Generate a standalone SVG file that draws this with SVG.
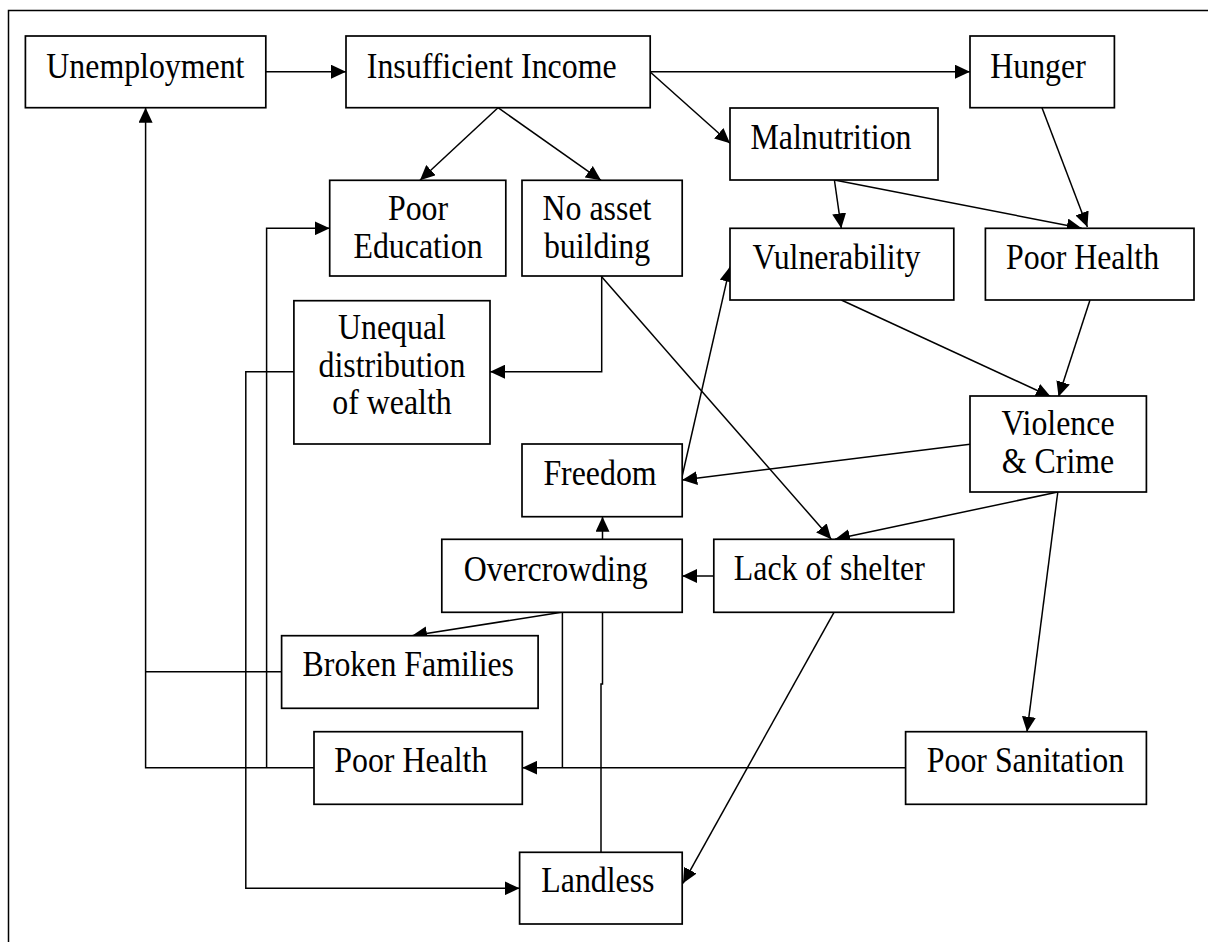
<svg xmlns="http://www.w3.org/2000/svg" width="1208" height="942" viewBox="0 0 1208 942">
<style>
.box{fill:#fff;stroke:#000;stroke-width:1.7}
.t{font-family:"Liberation Serif","Times New Roman",serif;font-size:36px;fill:#000;text-anchor:middle}
.c{fill:none;stroke:#000;stroke-width:1.5}
</style>
<defs>
<marker id="ah" viewBox="0 0 15 14" refX="15" refY="7" markerWidth="15" markerHeight="14" markerUnits="userSpaceOnUse" orient="auto">
<path d="M0,0 L15,7 L0,14 z" fill="#000"/>
</marker>
</defs>
<rect x="0" y="0" width="1208" height="942" fill="#fff"/>
<rect x="8.5" y="10.5" width="1220" height="950" fill="none" stroke="#000" stroke-width="1.5"/>

<g id="connectors">
<path class="c" d="M265.8,71.7 H346" marker-end="url(#ah)"/>
<path class="c" d="M650.2,71.7 H970" marker-end="url(#ah)"/>
<path class="c" d="M498,107.7 L420,180.3" marker-end="url(#ah)"/>
<path class="c" d="M498,107.7 L601,180.3" marker-end="url(#ah)"/>
<path class="c" d="M650.2,72 L730,143.3" marker-end="url(#ah)"/>
<path class="c" d="M834.4,180 L841.3,228.3" marker-end="url(#ah)"/>
<path class="c" d="M834.4,180 L1081.7,228.3" marker-end="url(#ah)"/>
<path class="c" d="M1042,107.7 L1087.4,227" marker-end="url(#ah)"/>
<path class="c" d="M841.3,300 L1050.8,396.7" marker-end="url(#ah)"/>
<path class="c" d="M1090,300 L1058.5,396.7" marker-end="url(#ah)"/>
<path class="c" d="M601.7,276 V371.7 H490" marker-end="url(#ah)"/>
<path class="c" d="M601,276 L831.3,539.3" marker-end="url(#ah)"/>
<path class="c" d="M970,444.3 L682.2,480" marker-end="url(#ah)"/>
<path class="c" d="M682.2,476 L730,266.7" marker-end="url(#ah)"/>
<path class="c" d="M1057.8,492 L835,539.3" marker-end="url(#ah)"/>
<path class="c" d="M1057.8,492 L1027,731.7" marker-end="url(#ah)"/>
<path class="c" d="M713.8,576 H682.2" marker-end="url(#ah)"/>
<path class="c" d="M834,612.3 L683,883.3" marker-end="url(#ah)"/>
<path class="c" d="M561.6,612.3 L412,635.7" marker-end="url(#ah)"/>
<path class="c" d="M562.4,612.3 V767.7"/>
<path class="c" d="M905.6,767.7 H522.3" marker-end="url(#ah)"/>
<path class="c" d="M601,852.3 V684 H602.5 V516.7" marker-end="url(#ah)"/>
<path class="c" d="M293.9,371.7 H245.8 V888.3 H519.6" marker-end="url(#ah)"/>
<path class="c" d="M314,767.7 H145.6 V107.7" marker-end="url(#ah)"/>
<path class="c" d="M281.6,671.7 H145.6"/>
<path class="c" d="M266.6,767.7 V228.3 H329.7" marker-end="url(#ah)"/>
</g>

<g id="unemployment"><rect class="box" x="25.4" y="36" width="240.4" height="71.7"/><text class="t" transform="translate(145.4 77.7) scale(0.885 1)">Unemployment</text></g>
<g id="insufficient-income"><rect class="box" x="346" y="36" width="304.2" height="71.7"/><text class="t" transform="translate(491.7 77.7) scale(0.885 1)">Insufficient Income</text></g>
<g id="hunger"><rect class="box" x="970" y="36" width="144.4" height="71.7"/><text class="t" transform="translate(1038 77.7) scale(0.885 1)">Hunger</text></g>
<g id="malnutrition"><rect class="box" x="730" y="108" width="208" height="72"/><text class="t" transform="translate(831 148.5) scale(0.885 1)">Malnutrition</text></g>
<g id="poor-education"><rect class="box" x="329.7" y="180.3" width="176.1" height="95.7"/><text class="t" transform="translate(418 220) scale(0.885 1)">Poor</text><text class="t" transform="translate(418 258.3) scale(0.885 1)">Education</text></g>
<g id="no-asset-building"><rect class="box" x="522" y="180.3" width="160.2" height="95.7"/><text class="t" transform="translate(597 220) scale(0.885 1)">No asset</text><text class="t" transform="translate(597 258.3) scale(0.885 1)">building</text></g>
<g id="vulnerability"><rect class="box" x="730" y="228.3" width="223.8" height="71.7"/><text class="t" transform="translate(836.5 268.5) scale(0.885 1)">Vulnerability</text></g>
<g id="poor-health-top"><rect class="box" x="985.4" y="228.3" width="208.6" height="71.7"/><text class="t" transform="translate(1082.6 268.5) scale(0.885 1)">Poor Health</text></g>
<g id="unequal-distribution"><rect class="box" x="293.9" y="300.7" width="196.1" height="143.3"/><text class="t" transform="translate(392 339.3) scale(0.885 1)">Unequal</text><text class="t" transform="translate(392 376.7) scale(0.885 1)">distribution</text><text class="t" transform="translate(392 414.3) scale(0.885 1)">of wealth</text></g>
<g id="violence-crime"><rect class="box" x="970" y="396" width="176.4" height="96"/><text class="t" transform="translate(1058 435) scale(0.885 1)">Violence</text><text class="t" transform="translate(1058 472.7) scale(0.885 1)">&amp; Crime</text></g>
<g id="freedom"><rect class="box" x="522" y="444" width="160.2" height="72.7"/><text class="t" transform="translate(600 485) scale(0.885 1)">Freedom</text></g>
<g id="overcrowding"><rect class="box" x="441.8" y="539.3" width="240.4" height="73"/><text class="t" transform="translate(555.8 580.5) scale(0.885 1)">Overcrowding</text></g>
<g id="lack-of-shelter"><rect class="box" x="713.8" y="539.3" width="240" height="73"/><text class="t" transform="translate(829.3 580) scale(0.885 1)">Lack of shelter</text></g>
<g id="broken-families"><rect class="box" x="281.6" y="635.7" width="256.5" height="72.6"/><text class="t" transform="translate(408.3 675.5) scale(0.885 1)">Broken Families</text></g>
<g id="poor-health-bottom"><rect class="box" x="314" y="731.7" width="208.3" height="72.6"/><text class="t" transform="translate(410.8 771.7) scale(0.885 1)">Poor Health</text></g>
<g id="poor-sanitation"><rect class="box" x="905.6" y="731.7" width="240.8" height="72.6"/><text class="t" transform="translate(1025.4 771.7) scale(0.885 1)">Poor Sanitation</text></g>
<g id="landless"><rect class="box" x="519.6" y="852.3" width="162.6" height="71.7"/><text class="t" transform="translate(597.9 891.7) scale(0.885 1)">Landless</text></g>
</svg>
